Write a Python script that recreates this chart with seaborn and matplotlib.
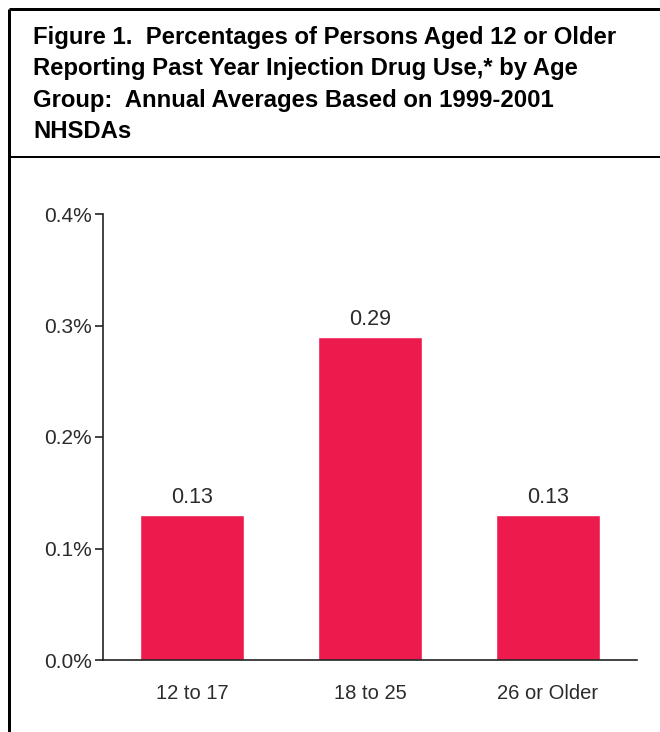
import matplotlib
matplotlib.use("Agg")
import matplotlib.pyplot as plt
import seaborn as sns
import pandas as pd
from matplotlib.lines import Line2D

# Past-year injection drug use by age group (percent)
age_groups = ["12 to 17", "18 to 25", "26 or Older"]
percent_values = [0.13, 0.29, 0.13]
y_ticks = [0.0, 0.1, 0.2, 0.3, 0.4]
title_lines = [
    "Figure 1.  Percentages of Persons Aged 12 or Older",
    "Reporting Past Year Injection Drug Use,* by Age",
    "Group:  Annual Averages Based on 1999-2001",
    "NHSDAs",
]

sns.set_theme(style="white")
plt.rcParams["font.family"] = ["Liberation Sans", "DejaVu Sans"]

df = pd.DataFrame({"age": age_groups, "pct": percent_values})

fig = plt.figure(figsize=(6.6, 7.32), dpi=100)
ax = fig.add_axes([103 / 660, 1 - 660 / 732, (637 - 103) / 660, (660 - 214) / 732])

bar_color = "#ED1A4E"
sns.barplot(data=df, x="age", y="pct", color=bar_color, saturation=1,
            width=0.58, ax=ax, errorbar=None)

ax.set_xlim(-0.5, 2.5)
ax.set_ylim(0, 0.4)
ax.set_yticks(y_ticks)
ax.set_yticklabels([f"{t:.1f}%" for t in y_ticks])
ax.set_xlabel("")
ax.set_ylabel("")

text_color = "#2b2b2b"
ax.tick_params(axis="y", which="both", left=True, length=6, width=1.2,
               color="#222222", labelsize=15, labelcolor=text_color, pad=2,
               direction="out")
ax.tick_params(axis="x", bottom=False, labelsize=14.5, labelcolor=text_color, pad=11)

for side in ["top", "right"]:
    ax.spines[side].set_visible(False)
for side in ["left", "bottom"]:
    ax.spines[side].set_color("#222222")
    ax.spines[side].set_linewidth(1.2)

for i, v in enumerate(percent_values):
    ax.annotate(f"{v:.2f}", xy=(i, v), xytext=(0, 5), textcoords="offset points",
                ha="center", va="bottom", fontsize=15.5, color=text_color)

# Title block
title_baselines = [44, 75.5, 107, 138.5]
for line, y in zip(title_lines, title_baselines):
    fig.text(33 / 660, 1 - y / 732, line, ha="left", va="baseline",
             fontsize=17.2, fontweight="bold", color="#000000")

# Frame lines around the figure
frame = [
    ([9 / 660, 1.0], [1 - 9 / 732, 1 - 9 / 732], 3),
    ([9 / 660, 9 / 660], [1 - 9 / 732, 0.0], 3),
    ([9 / 660, 1.0], [1 - 157 / 732, 1 - 157 / 732], 2),
]
for xs, ys, lw in frame:
    fig.add_artist(Line2D(xs, ys, transform=fig.transFigure, color="black",
                          linewidth=lw * 0.72, solid_capstyle="butt"))

fig.savefig("out.png", dpi=100)
